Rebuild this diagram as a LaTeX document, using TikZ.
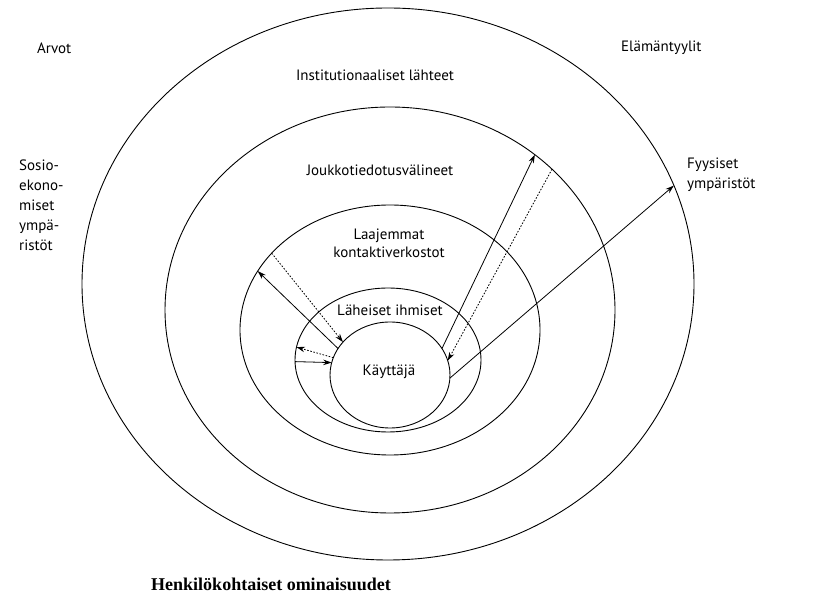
\documentclass[tikz,border=0pt]{standalone}
\usepackage{fontspec}
\setmainfont{PT Sans}
\newfontfamily\capfont{Liberation Serif}
\usetikzlibrary{shapes.geometric,arrows.meta}
\begin{document}
\begin{tikzpicture}[x=1pt,y=1pt,
  ring/.style={ellipse,draw,line width=0.9pt,inner sep=0pt,outer sep=0pt},
  lbl/.style={font=\fontsize{15}{18}\selectfont,inner sep=0pt},
  arr/.style={line width=0.8pt,-{Stealth[length=8.5pt,width=5.5pt]}},
  dotarr/.style={arr,dash pattern=on 1.6pt off 1.6pt}]
\useasboundingbox[fill=white] (0,0) rectangle (824,599);
\node[ring,minimum width=612pt,minimum height=552pt] (e1) at (388,315) {};
\node[ring,minimum width=450pt,minimum height=406pt] (e2) at (390,289) {};
\node[ring,minimum width=300pt,minimum height=250pt] (e3) at (390,269) {};
\node[ring,minimum width=186pt,minimum height=144pt] (e4) at (388,239) {};
\node[ring,minimum width=120pt,minimum height=106pt] (e5) at (390,224) {};
\node[lbl,anchor=west] (arvot) at (37,551) {Arvot};
\node[lbl,anchor=west] (elama) at (621,551) {Elämäntyylit};
\node[lbl] (inst) at (375,524) {Institutionaaliset lähteet};
\node[lbl] (jouk) at (380,429) {Joukkotiedotusvälineet};
\node[lbl,align=center] (laaj) at (389,356) {Laajemmat\\kontaktiverkostot};
\node[lbl] (lah) at (390,289) {Läheiset ihmiset};
\node[lbl] (kay) at (389,227) {Käyttäjä};
\node[lbl,align=left,anchor=west,font=\fontsize{15}{20}\selectfont] (sosio) at (19,394) {Sosio-\\ekono-\\miset\\ympä-\\ristöt};
\node[lbl,align=left,anchor=west,font=\fontsize{15}{20}\selectfont] (fyys) at (687,424) {Fyysiset\\ympäristöt};
\node[inner sep=0pt,font=\capfont\bfseries\fontsize{18}{21}\selectfont] (cap) at (271,15) {Henkilökohtaiset ominaisuudet};
\draw[arr] (e5.-3) -- (e1.19);
\draw[arr] (e5.27) -- (e2.47);
\draw[dotarr] (e2.41) -- (e5.14);
\draw[arr] (e5.153) -- (e3.156);
\draw[dotarr] (e3.147.6) -- (e5.145);
\draw[dotarr] (e5.163.7) -- (e4.172);
\draw[arr] (e4.181.8) -- (e5.168.5);
\end{tikzpicture}
\end{document}
